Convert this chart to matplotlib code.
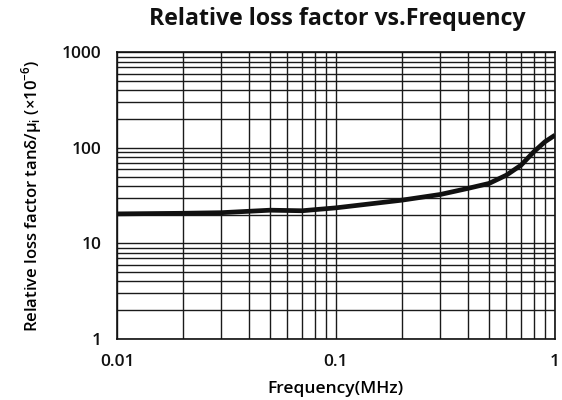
import matplotlib
matplotlib.use("Agg")
import matplotlib.pyplot as plt
from matplotlib.ticker import FixedLocator, NullFormatter, LogLocator

freq_mhz = [0.01, 0.02, 0.03, 0.05, 0.07, 0.1, 0.2, 0.3, 0.4, 0.5, 0.6, 0.7, 0.8, 0.9, 1.0]
loss_factor = [20.4, 20.7, 21.0, 22.3, 22.0, 23.6, 28.4, 32.6, 37.7, 42.5, 51.9, 66.0, 91.0, 116.0, 136.0]

x_ticks = [0.01, 0.1, 1]
x_tick_labels = ["0.01", "0.1", "1"]
y_ticks = [1, 10, 100, 1000]
y_tick_labels = ["1", "10", "100", "1000"]

plt.rcParams['font.family'] = ['Open Sans', 'DejaVu Sans']

fig = plt.figure(figsize=(5.62, 4.0), dpi=100)
ax = fig.add_axes([0.2082, 0.1525, 0.7793, 0.7165])

ax.set_xscale("log")
ax.set_yscale("log")
ax.set_xlim(0.01, 1)
ax.set_ylim(1, 1000)

# full log grid on both axes
ax.xaxis.set_major_locator(FixedLocator(x_ticks))
ax.yaxis.set_major_locator(FixedLocator(y_ticks))
ax.xaxis.set_minor_locator(LogLocator(base=10, subs=range(2, 10)))
ax.yaxis.set_minor_locator(LogLocator(base=10, subs=range(2, 10)))
ax.xaxis.set_minor_formatter(NullFormatter())
ax.yaxis.set_minor_formatter(NullFormatter())
ax.set_xticklabels(x_tick_labels, fontweight=600)
ax.set_yticklabels(y_tick_labels, fontweight=600)
ax.grid(True, which="both", color="#1a1a1a", linewidth=1.0)
ax.tick_params(which="both", length=0, labelsize=12.5, colors="#111111")
ax.tick_params(axis="x", pad=11)
ax.tick_params(axis="y", pad=11)
for s in ax.spines.values():
    s.set_color("#111111")
    s.set_linewidth(1.2)

ax.plot(freq_mhz, loss_factor, color="#111111", linewidth=3.4, solid_capstyle="butt",
        solid_joinstyle="round", zorder=5)

ax.set_xlabel("Frequency(MHz)", fontsize=12.5, fontweight=600, labelpad=8)
ax.set_ylabel(r"Relative loss factor tanδ/μ$_\mathregular{i}$ (×10$^\mathregular{-6}$)",
              fontsize=12, fontweight=600, labelpad=13)
fig.text(0.6, 0.952, "Relative loss factor vs.Frequency", ha="center", va="center",
         fontsize=16.7, fontweight="bold", color="#111111")

fig.savefig("out.png", dpi=100)
